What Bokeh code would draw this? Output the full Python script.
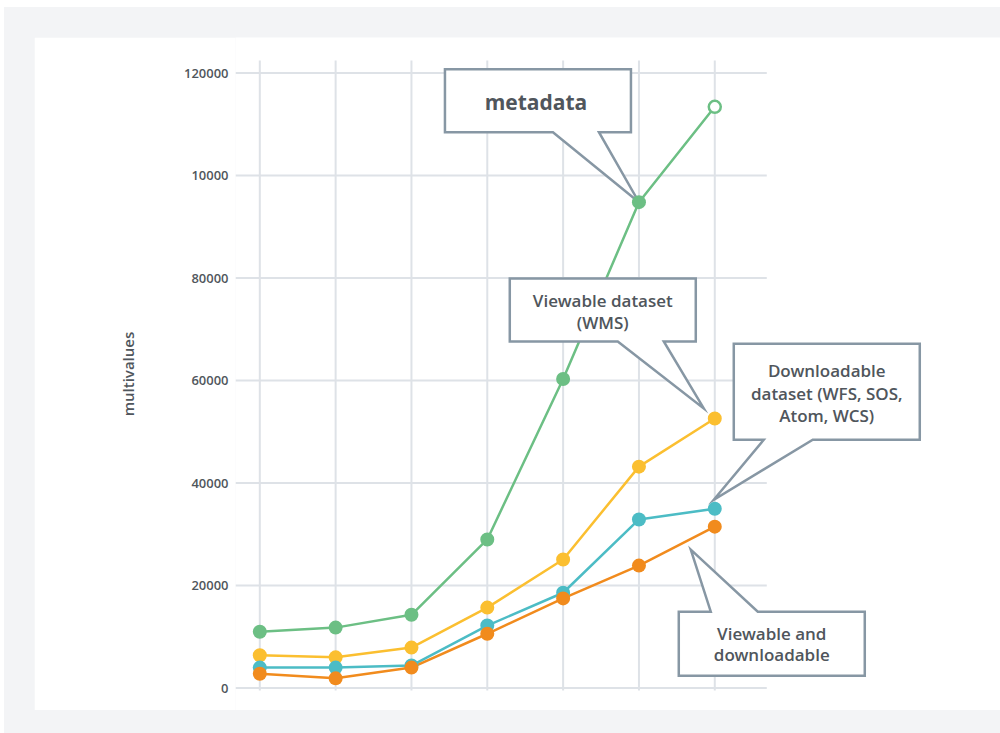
from bokeh.plotting import figure
from bokeh.layouts import column
from bokeh.models import FixedTicker, Range1d
from bokeh.embed import file_html
from bokeh.resources import INLINE
from bokeh.core.properties import value

# ---------------- data ----------------
steps = [0, 1, 2, 3, 4, 5, 6]
metadata = [11000, 11800, 14300, 29000, 60300, 94800, 113400]
viewable = [6400, 6000, 7900, 15700, 25100, 43200, 52600]
downloadable = [4000, 4000, 4400, 12200, 18600, 32900, 35000]
view_and_down = [2800, 1900, 4000, 10600, 17500, 23900, 31500]
y_ticks = [0, 20000, 40000, 60000, 80000, 100000, 120000]
y_tick_labels = ["0", "20000", "40000", "60000", "80000", "10000", "120000"]
y_label = "multivalues"
callout_metadata = ["metadata"]
callout_viewable = ["Viewable dataset", "(WMS)"]
callout_download = ["Downloadable", "dataset (WFS, SOS,", "Atom, WCS)"]
callout_both = ["Viewable and", "downloadable"]

# ---------------- styling ----------------
GREEN = "#6cbf84"
YELLOW = "#fbbf30"
TEAL = "#4cbcc5"
ORANGE = "#f18b1d"
GRID = "#dee2e7"
BORDER = "#8797a4"
TEXT = "#50565c"
BG = "#f3f4f6"
SEMI = "Open Sans SemiBold"

PX_X = 75.83      # px per x unit
PX_Y = 0.0051258  # px per y unit

p = figure(width=966, height=673, output_backend="svg", toolbar_location=None,
           x_axis_location=None,
           x_range=Range1d(-0.3205, 9.768), y_range=Range1d(-4370, 126926),
           min_border_left=201, min_border_right=0, min_border_top=0, min_border_bottom=0)
p.margin = (30, 0, 23, 30)
p.outline_line_color = None
p.border_fill_color = "white"
p.background_fill_color = "white"
p.grid.visible = False

# axis
ax = p.yaxis[0]
ax.ticker = FixedTicker(ticks=y_ticks)
ax.major_label_overrides = {t: s for t, s in zip(y_ticks, y_tick_labels)}
ax.axis_line_color = None
ax.major_tick_line_color = None
ax.minor_tick_line_color = None
ax.major_tick_out = 0
ax.major_tick_in = 0
ax.major_label_standoff = 7
ax.major_label_text_font = SEMI
ax.major_label_text_font_size = "13px"
ax.major_label_text_color = TEXT
ax.axis_label = y_label
ax.axis_label_standoff = 43
ax.axis_label_text_font = SEMI
ax.axis_label_text_font_size = "15px"
ax.axis_label_text_font_style = "normal"
ax.axis_label_text_color = TEXT

# gridlines
gx0 = -24.3 / PX_X
gx1 = 6 + 52 / PX_X
p.segment(x0=[gx0] * len(y_ticks), x1=[gx1] * len(y_ticks), y0=y_ticks, y1=y_ticks,
          line_color=GRID, line_width=2)
vy0 = -2.5 / PX_Y
vy1 = y_ticks[-1] + 12.5 / PX_Y
p.segment(x0=steps, x1=steps, y0=[vy0] * len(steps), y1=[vy1] * len(steps),
          line_color=GRID, line_width=2)

# lines
series = [(metadata, GREEN), (viewable, YELLOW), (downloadable, TEAL), (view_and_down, ORANGE)]
for ys, c in series:
    p.line(steps, ys, line_color=c, line_width=2.5)


def callout(ax_, ay_, pts, lines, cx, cy0, dy, size, font, style="normal"):
    xs = [ax_ + dxp / PX_X for dxp, dyp in pts]
    ys = [ay_ - dyp / PX_Y for dxp, dyp in pts]
    p.patch(xs, ys, fill_color="white", line_color=BORDER, line_width=2.5, line_join="miter")
    tx = [ax_ + cx / PX_X] * len(lines)
    ty = [ay_ - (cy0 + i * dy) / PX_Y for i in range(len(lines))]
    p.text(x=tx, y=ty, text=lines, text_align="center", text_baseline="middle",
           text_font=value(font), text_font_size=size, text_font_style=style, text_color=TEXT)


# metadata callout (anchor green point 5)
callout(steps[5], metadata[5],
        [(-194, -133), (-8, -133), (-8, -70), (-40, -70), (0, 0), (-86, -70), (-194, -70)],
        callout_metadata, -103, -100, 0, "21px", "Open Sans", "bold")
# viewable dataset callout (anchor yellow point 6)
callout(steps[6], viewable[6],
        [(-205, -140), (-19, -140), (-19, -77), (-51, -77), (-11, -10), (-97, -77), (-205, -77)],
        callout_viewable, -112, -118, 22, "17px", SEMI)
# downloadable callout (anchor teal point 6)
callout(steps[6], downloadable[6],
        [(19, -165), (205, -165), (205, -69), (98, -69), (-1, -9), (49, -69), (19, -69)],
        callout_download, 112, -138, 22.5, "17px", SEMI)
# viewable and downloadable callout (anchor orange point 6)
callout(steps[6], view_and_down[6],
        [(-36, 85), (-4, 85), (-24, 23), (43, 85), (150, 85), (150, 149), (-36, 149)],
        callout_both, 57, 107, 21, "17px", SEMI)

# markers
for ys, c in series:
    if ys is metadata:
        p.scatter(steps[:-1], ys[:-1], size=14, fill_color=c, line_color=c, line_width=0)
        p.scatter(steps[-1:], ys[-1:], size=12, fill_color="white", line_color=c, line_width=2.5)
    else:
        p.scatter(steps, ys, size=14, fill_color=c, line_color=c, line_width=0)

page = column(p, styles={"background-color": BG})
page.margin = (7, 0, 0, 4)

open("out.html", "w").write(file_html(page, INLINE))
